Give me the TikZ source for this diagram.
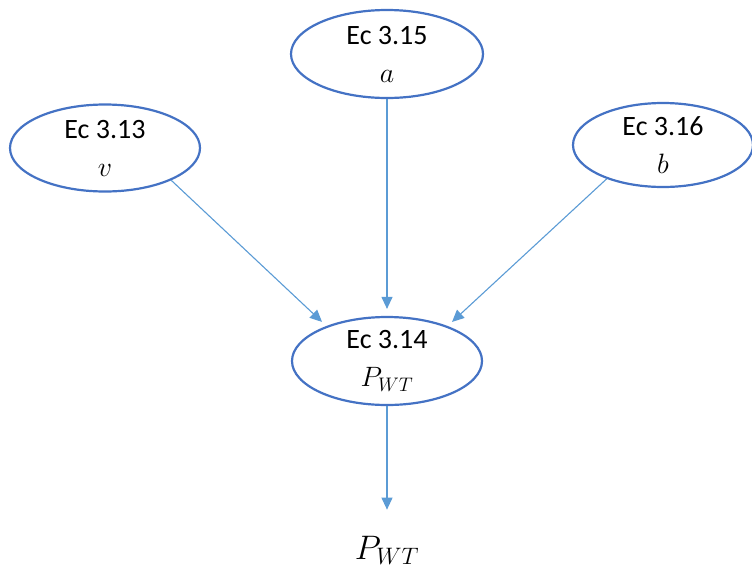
\RequirePackage{fix-cm}
\documentclass[tikz,border=0pt]{standalone}
\usepackage{fontspec}
\setmainfont{Carlito}
\usetikzlibrary{shapes.geometric,arrows.meta}
\definecolor{ringblue}{RGB}{68,114,196}
\definecolor{linkblue}{RGB}{91,155,213}
\begin{document}
\begin{tikzpicture}[x=1pt,y=-1pt,
  eqnode/.style={ellipse,draw=ringblue,line width=2.2pt,fill=white,
    minimum width=192pt,minimum height=88pt,inner sep=0pt,align=center,
    font=\fontsize{28}{38}\selectfont},
  link/.style={draw=linkblue,line width=1.1pt,
    -{Triangle[length=12pt,width=11pt]}}]
\useasboundingbox (0,0) rectangle (752,571);
% equation nodes
\node[eqnode] (a) at (387,54) {Ec 3.15\\$a$};
\node[eqnode,minimum width=190pt,minimum height=87pt] (v) at (105,148) {Ec 3.13\\$v$};
\node[eqnode,minimum width=180pt,minimum height=84pt] (b) at (663,145) {Ec 3.16\\$b$};
\node[eqnode,minimum width=190pt] (m) at (387,361) {Ec 3.14\\$P_{WT}$};
% final result
\node[inner sep=0pt,font=\fontsize{34}{40}\selectfont] (out) at (387,550) {$P_{WT}$};
% dependencies
\draw[link,shorten >=6pt] (v.-26) -- (m.150);
\draw[link,shorten >=7pt] (a.south) -- (m.north);
\draw[link,shorten >=6pt] (b.-149) -- (m.30);
\draw[link,shorten >=26pt] (m.south) -- (out.north);
\end{tikzpicture}
\end{document}
